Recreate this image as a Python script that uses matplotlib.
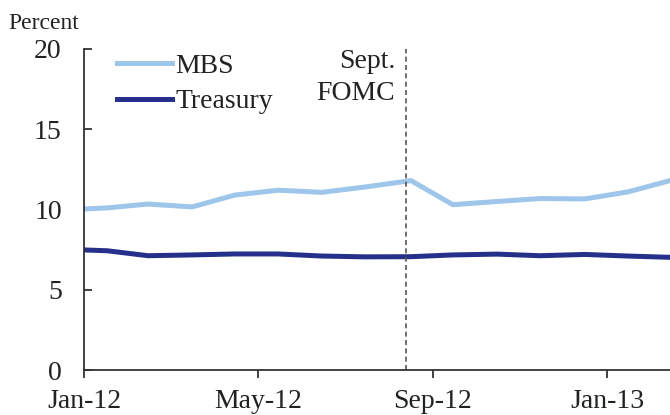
import matplotlib
matplotlib.use("Agg")
import matplotlib.pyplot as plt
from matplotlib.lines import Line2D

# months since Jan-2012
x_months = [0.0, 0.53, 1.47, 2.48, 3.46, 4.45, 5.46, 6.44, 7.5, 8.46, 9.47, 10.46, 11.49, 12.48, 13.44]
mbs = [10.03, 10.1, 10.34, 10.16, 10.9, 11.2, 11.07, 11.4, 11.8, 10.3, 10.5, 10.68, 10.66, 11.1, 11.8]
treasury = [7.48, 7.43, 7.12, 7.17, 7.23, 7.23, 7.1, 7.05, 7.06, 7.17, 7.22, 7.12, 7.2, 7.1, 7.02]
tick_pos = [0, 4, 8, 12]
tick_labels = ["Jan-12", "May-12", "Sep-12", "Jan-13"]
fomc_x = 7.39
y_ticks = [0, 5, 10, 15, 20]

plt.rcParams['font.family'] = ['Liberation Serif', 'DejaVu Serif']

fig = plt.figure(figsize=(6.7, 4.15), dpi=100)
ax = fig.add_axes([84/670, 45/415, 1 - 84/670, (370-49)/415])

mbs_color = '#9dc6ea'
tsy_color = '#25308a'
ax.plot(x_months, mbs, color=mbs_color, lw=3.6, solid_joinstyle='miter')
ax.plot(x_months, treasury, color=tsy_color, lw=3.6, solid_joinstyle='miter')
ax.axvline(fomc_x, color='#555555', lw=1.2, ls=(0, (3, 2)))

ax.set_xlim(0, 13.44)
ax.set_ylim(0, 20)
ax.set_yticks(y_ticks)
ax.set_xticks(tick_pos)
ax.set_xticklabels(tick_labels)

for s in ['top', 'right']:
    ax.spines[s].set_visible(False)
for s in ['left', 'bottom']:
    ax.spines[s].set_color('#333333')
    ax.spines[s].set_linewidth(1.3)

ax.tick_params(axis='y', direction='in', length=6, width=1.3, color='#333333',
               labelsize=20, pad=16, labelcolor='#222222')
ax.tick_params(axis='x', direction='out', length=6, width=1.3, color='#333333',
               labelsize=20, pad=8, labelcolor='#222222')

handles = [Line2D([], [], color=mbs_color, lw=3.6),
           Line2D([], [], color=tsy_color, lw=3.6)]
leg = ax.legend(handles, ['MBS', 'Treasury'], loc='upper left',
                bbox_to_anchor=(0.037, 1.02), frameon=False, fontsize=20,
                handlelength=2.0, handletextpad=0.1, labelspacing=0.35,
                borderaxespad=0)
for t in leg.get_texts():
    t.set_color('#222222')

ax.text(fomc_x - 0.25, 18.82, "Sept.", ha='right', va='baseline', fontsize=20,
        color='#222222')
ax.text(fomc_x - 0.25, 16.82, "FOMC", ha='right', va='baseline', fontsize=20,
        color='#222222')

fig.text(8/670, 1 - 29/415, "Percent", ha='left', va='baseline', fontsize=17,
         color='#222222')

fig.savefig("out.png", dpi=100)
